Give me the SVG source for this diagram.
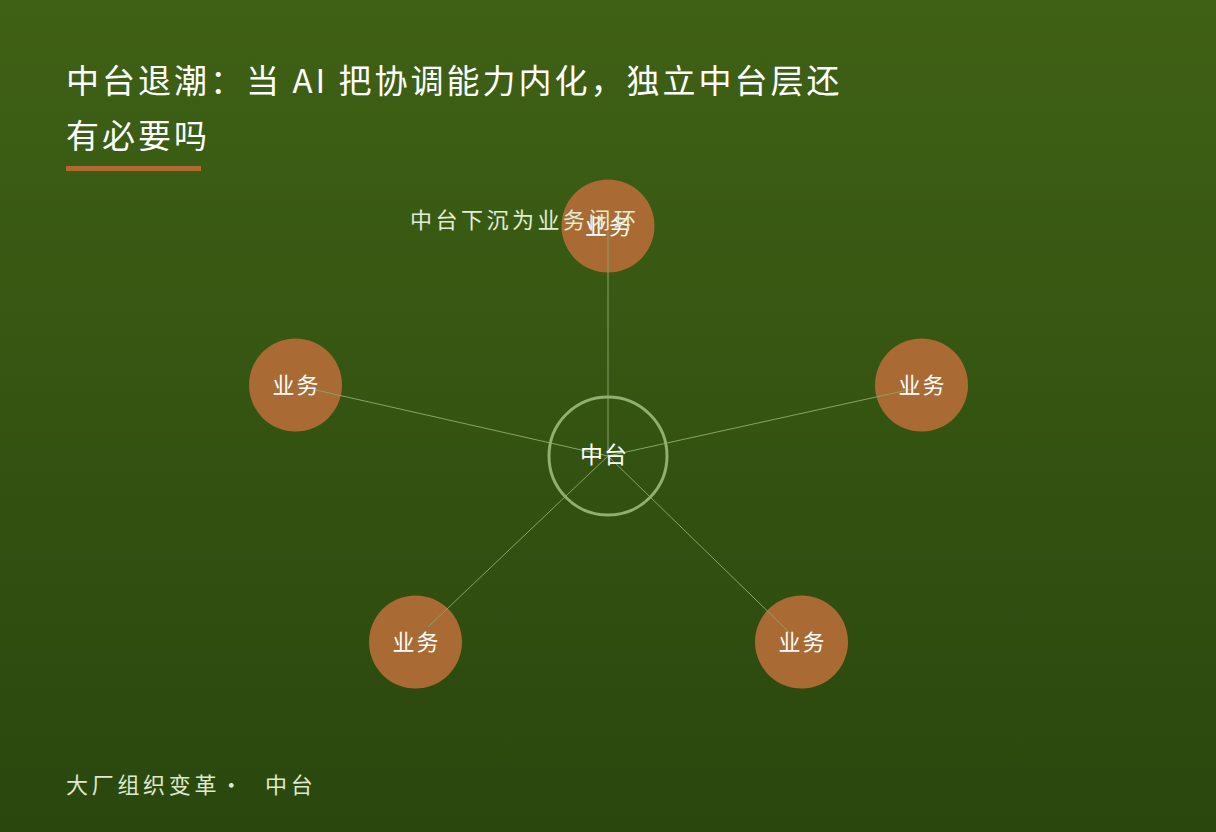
<svg xmlns="http://www.w3.org/2000/svg" width="1216" height="832" viewBox="0 0 1216 832">
<defs>
<linearGradient id="bg" x1="0" y1="0" x2="0" y2="1">
<stop offset="0" stop-color="#3f6115"/>
<stop offset="1" stop-color="#2a470e"/>
</linearGradient>
</defs>
<style>
text{font-family:"Noto Sans CJK SC","Liberation Sans",sans-serif}
.title{font-size:33px;fill:#ffffff;letter-spacing:3px}
.sub{font-size:22px;fill:#e3ecd6;letter-spacing:3.5px}
.foot{font-size:22px;fill:#dfe9cf;letter-spacing:3.7px}
.node circle{fill:#a96b33}
.node text{font-size:22px;fill:#ffffff;text-anchor:middle;letter-spacing:2px}
.conn line{stroke:#86a468;stroke-width:1}
</style>
<rect width="1216" height="832" fill="url(#bg)"/>
<text class="title" x="66" y="93">中台退潮：当 AI 把协调能力内化，独立中台层还</text>
<text class="title" x="66" y="148">有必要吗</text>
<rect x="66" y="166" width="135" height="5" fill="#b06a30"/>
<g id="n1" class="node"><circle cx="608" cy="226" r="46.5"/></g>
<g id="n2" class="node"><circle cx="295.5" cy="385" r="46.5"/></g>
<g id="n3" class="node"><circle cx="921.5" cy="385" r="46.5"/></g>
<g id="n4" class="node"><circle cx="415.5" cy="642" r="46.5"/></g>
<g id="n5" class="node"><circle cx="801.5" cy="642" r="46.5"/></g>
<g id="connectors" class="conn">
<line x1="608" y1="456" x2="608" y2="232"/>
<line x1="608" y1="456" x2="316" y2="390"/>
<line x1="608" y1="456" x2="917" y2="388"/>
<line x1="608" y1="456" x2="428" y2="627"/>
<line x1="608" y1="456" x2="790" y2="633"/>
</g>
<g id="center">
<circle cx="608" cy="456" r="59" fill="none" stroke="#8fb070" stroke-width="3"/>
<text x="604" y="463" font-size="23" fill="#ffffff" text-anchor="middle" letter-spacing="1">中台</text>
</g>
<g class="node"><text x="609" y="234">业务</text></g>
<g class="node"><text x="296.5" y="393">业务</text></g>
<g class="node"><text x="922.5" y="393">业务</text></g>
<g class="node"><text x="416.5" y="650">业务</text></g>
<g class="node"><text x="802.5" y="650">业务</text></g>
<text class="sub" x="410" y="228">中台下沉为业务闭环</text>
<g id="footer">
<text class="foot" x="66" y="793">大厂组织变革</text>
<text class="foot" x="233" y="793" text-anchor="middle" letter-spacing="0">·</text>
<text class="foot" x="265" y="793">中台</text>
</g>
</svg>
